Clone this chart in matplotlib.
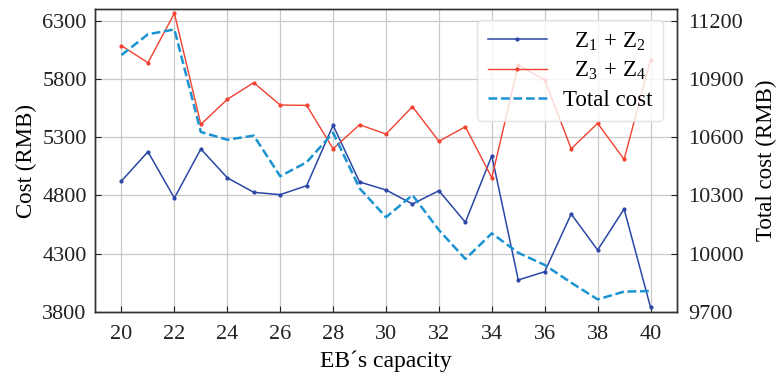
import numpy as np
import matplotlib
matplotlib.use("Agg")
import matplotlib.pyplot as plt

plt.rcParams["font.family"] = ["Liberation Serif", "DejaVu Serif"]
plt.rcParams["mathtext.fontset"] = "custom"
plt.rcParams["mathtext.rm"] = "Liberation Serif"
plt.rcParams["mathtext.it"] = "Liberation Serif:italic"

# EB capacity on the x axis
capacity = list(range(20, 41))

# Z1 + Z2 (left axis)
z12 = [4924, 5175, 4778, 5199, 4952, 4827, 4807, 4884, 5402, 4916, 4847,
       4727, 4841, 4570, 5141, 4075, 4146, 4641, 4332, 4684, 3840]
# Z3 + Z4 (left axis)
z34 = [6085, 5939, 6363, 5410, 5625, 5768, 5576, 5573, 5201, 5407, 5327,
       5562, 5265, 5390, 4952, 5919, 5791, 5201, 5419, 5110, 5962]
# Total cost (right axis)
total = [11023, 11130, 11155, 10627, 10587, 10608, 10399, 10471, 10623, 10337, 10188,
         10302, 10122, 9973, 10105, 10005, 9942, 9851, 9765, 9805, 9808]

left_ticks = [3800, 4300, 4800, 5300, 5800, 6300]
right_ticks = [9700, 10000, 10300, 10600, 10900, 11200]
x_ticks = list(range(20, 41, 2))

fig = plt.figure(figsize=(7.77, 3.77), dpi=100)
ax = fig.add_axes([0.1223, 0.1724, 0.7490, 0.8037])
ax2 = ax.twinx()

l1, = ax.plot(capacity, z12, color="#2b47a6", lw=1.1, marker=".", ms=4,
              label=r"  $\mathrm{Z}_1\,+\,\mathrm{Z}_2$")
l2, = ax.plot(capacity, z34, color="#f2412f", lw=1.0, marker=".", ms=4,
              label=r"  $\mathrm{Z}_3\,+\,\mathrm{Z}_4$")
l3, = ax2.plot(capacity, total, color="#1b93d1", lw=1.8, ls=(0, (3.5, 1.5)), label="Total cost")

ax.set_xlim(19, 41)
ax.set_ylim(3800, 6400)
ax2.set_ylim(9700, 11260)
ax.set_xticks(x_ticks)
ax.set_yticks(left_ticks)
ax2.set_yticks(right_ticks)

ax.grid(True, color="#c9c9c9", lw=0.9)
ax.set_axisbelow(True)
for a in (ax, ax2):
    a.tick_params(direction="in", labelsize=16, length=4, width=0.8, colors="#222222")
    for s in a.spines.values():
        s.set_color("#333333")
        s.set_linewidth(1.0)
ax.tick_params(axis="x", pad=9)
ax.tick_params(axis="y", pad=6)
ax2.tick_params(axis="y", pad=8)

ax.set_xlabel("EB\u00b4s capacity", fontsize=17, labelpad=5)
ax.set_ylabel("Cost (RMB)", fontsize=16.5, labelpad=4)
ax2.set_ylabel("Total cost (RMB)", fontsize=16.5, labelpad=9)

leg = ax2.legend(handles=[l1, l2, l3], loc="upper right", fontsize=16.5,
                 framealpha=0.8, edgecolor="#dddddd", handlelength=2.6,
                 borderaxespad=0, borderpad=0.45, labelspacing=0.32, handletextpad=0.7,
                 bbox_to_anchor=(0.976, 0.964))

fig.savefig("out.png", dpi=100)
